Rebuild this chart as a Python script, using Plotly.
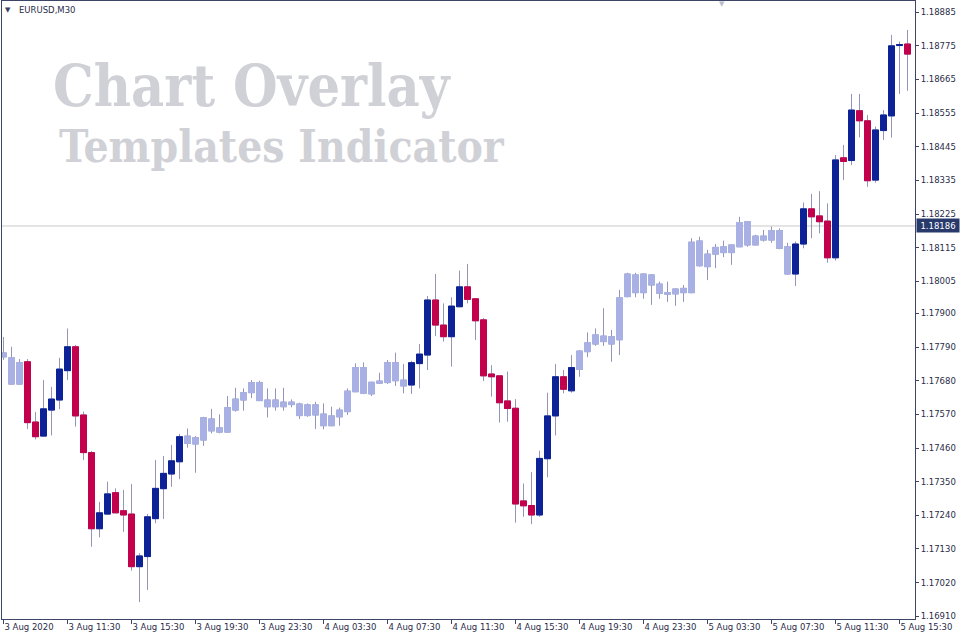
import plotly.graph_objects as go
import pandas as pd

# ---------------- data (EURUSD, M30) ----------------
times = pd.date_range("2020-08-03 07:30", periods=114, freq="30min")

open_ = [1.17771, 1.17755, 1.17669, 1.17742, 1.17545, 1.17499, 1.17584, 1.17617, 1.17713, 1.17791,
         1.17568, 1.17445, 1.17196, 1.17244, 1.17314, 1.17255, 1.17244, 1.17072, 1.17105, 1.17229,
         1.17327, 1.17375, 1.17415, 1.17499, 1.17473, 1.17486, 1.17555, 1.17512, 1.17512, 1.17584,
         1.17617, 1.17641, 1.17674, 1.17617, 1.17595, 1.17610, 1.17602, 1.17604, 1.17566, 1.17601,
         1.17571, 1.17533, 1.17562, 1.17579, 1.17644, 1.17723, 1.17637, 1.17672, 1.17674, 1.17739,
         1.17682, 1.17666, 1.17736, 1.17764, 1.17944, 1.17862, 1.17824, 1.17922, 1.17987, 1.17948,
         1.17879, 1.17702, 1.17696, 1.17614, 1.17590, 1.17287, 1.17272, 1.17241, 1.17425, 1.17565,
         1.17693, 1.17647, 1.17717, 1.17775, 1.17800, 1.17826, 1.17800, 1.17814, 1.17955, 1.18026,
         1.17968, 1.18026, 1.17996, 1.17968, 1.17964, 1.17968, 1.17968, 1.18137, 1.18053, 1.18094,
         1.18118, 1.18099, 1.18118, 1.18200, 1.18124, 1.18140, 1.18140, 1.18171, 1.18118, 1.18029,
         1.18127, 1.18242, 1.18219, 1.18202, 1.18082, 1.18409, 1.18400, 1.18563, 1.18530, 1.18336,
         1.18498, 1.18546, 1.18776, 1.18781]
high = [1.17823, 1.17791, 1.17751, 1.17751, 1.17578, 1.17682, 1.17660, 1.17755, 1.17851, 1.17797,
        1.17579, 1.17450, 1.17284, 1.17350, 1.17328, 1.17323, 1.17342, 1.17116, 1.17244, 1.17421,
        1.17434, 1.17470, 1.17506, 1.17524, 1.17499, 1.17562, 1.17588, 1.17570, 1.17630, 1.17657,
        1.17655, 1.17682, 1.17680, 1.17655, 1.17655, 1.17657, 1.17619, 1.17608, 1.17606, 1.17611,
        1.17606, 1.17595, 1.17592, 1.17655, 1.17737, 1.17740, 1.17677, 1.17706, 1.17748, 1.17772,
        1.17735, 1.17745, 1.17800, 1.17957, 1.18029, 1.17933, 1.17953, 1.18040, 1.18062, 1.17950,
        1.17885, 1.17731, 1.17698, 1.17710, 1.17620, 1.17344, 1.17381, 1.17451, 1.17641, 1.17735,
        1.17715, 1.17764, 1.17779, 1.17838, 1.17851, 1.17917, 1.17846, 1.17977, 1.18033, 1.18033,
        1.18031, 1.18028, 1.18004, 1.18004, 1.17982, 1.17993, 1.18146, 1.18151, 1.18108, 1.18127,
        1.18138, 1.18125, 1.18216, 1.18201, 1.18157, 1.18173, 1.18184, 1.18178, 1.18131, 1.18135,
        1.18263, 1.18291, 1.18300, 1.18260, 1.18418, 1.18451, 1.18618, 1.18618, 1.18549, 1.18511,
        1.18565, 1.18811, 1.18789, 1.18827]
low = [1.17748, 1.17666, 1.17666, 1.17522, 1.17488, 1.17497, 1.17501, 1.17587, 1.17682, 1.17530,
       1.17421, 1.17137, 1.17168, 1.17241, 1.17247, 1.17186, 1.17059, 1.16956, 1.16996, 1.17214,
       1.17228, 1.17333, 1.17358, 1.17461, 1.17379, 1.17467, 1.17508, 1.17508, 1.17510, 1.17579,
       1.17582, 1.17623, 1.17614, 1.17560, 1.17582, 1.17582, 1.17593, 1.17555, 1.17562, 1.17522,
       1.17521, 1.17531, 1.17533, 1.17568, 1.17643, 1.17636, 1.17630, 1.17669, 1.17669, 1.17663,
       1.17639, 1.17637, 1.17655, 1.17715, 1.17826, 1.17808, 1.17726, 1.17920, 1.17933, 1.17813,
       1.17679, 1.17628, 1.17543, 1.17546, 1.17216, 1.17235, 1.17211, 1.17235, 1.17364, 1.17501,
       1.17639, 1.17641, 1.17693, 1.17757, 1.17794, 1.17794, 1.17742, 1.17764, 1.17953, 1.17953,
       1.17948, 1.17928, 1.17948, 1.17938, 1.17925, 1.17938, 1.17966, 1.18053, 1.18009, 1.18048,
       1.18084, 1.18059, 1.18117, 1.18118, 1.18123, 1.18135, 1.18131, 1.18110, 1.18026, 1.17990,
       1.18113, 1.18146, 1.18162, 1.18066, 1.18073, 1.18336, 1.18385, 1.18476, 1.18314, 1.18328,
       1.18467, 1.18475, 1.18618, 1.18628]
close = [1.17758, 1.17669, 1.17739, 1.17543, 1.17497, 1.17588, 1.17620, 1.17718, 1.17791, 1.17565,
         1.17445, 1.17196, 1.17248, 1.17310, 1.17248, 1.17241, 1.17072, 1.17107, 1.17235, 1.17328,
         1.17377, 1.17418, 1.17497, 1.17475, 1.17494, 1.17559, 1.17516, 1.17526, 1.17592, 1.17620,
         1.17641, 1.17674, 1.17615, 1.17595, 1.17617, 1.17595, 1.17610, 1.17566, 1.17601, 1.17568,
         1.17533, 1.17565, 1.17584, 1.17646, 1.17723, 1.17639, 1.17675, 1.17679, 1.17739, 1.17680,
         1.17663, 1.17739, 1.17767, 1.17944, 1.17862, 1.17824, 1.17924, 1.17987, 1.17946, 1.17876,
         1.17696, 1.17693, 1.17608, 1.17589, 1.17277, 1.17271, 1.17241, 1.17426, 1.17565, 1.17693,
         1.17652, 1.17723, 1.17777, 1.17804, 1.17830, 1.17808, 1.17824, 1.17951, 1.18029, 1.17968,
         1.18029, 1.17993, 1.17966, 1.17963, 1.17980, 1.17982, 1.18133, 1.18056, 1.18094, 1.18116,
         1.18099, 1.18124, 1.18197, 1.18124, 1.18153, 1.18153, 1.18171, 1.18113, 1.18029, 1.18127,
         1.18242, 1.18216, 1.18200, 1.18082, 1.18402, 1.18397, 1.18565, 1.18530, 1.18334, 1.18500,
         1.18549, 1.18775, 1.18779, 1.18748]
# candles painted with the light "ranging" template
light = [True] * 3 + [False] * 20 + [True] * 28 + [False] * 21 + [True] * 27 + [False] * 15

price_ticks = [1.18885, 1.18775, 1.18665, 1.18555, 1.18445, 1.18335, 1.18225, 1.18115, 1.18005,
               1.17900, 1.17790, 1.17680, 1.17570, 1.17460, 1.17350, 1.17240, 1.17130, 1.17020, 1.16910]
tick_labels = ["3 Aug 2020", "3 Aug 11:30", "3 Aug 15:30", "3 Aug 19:30", "3 Aug 23:30",
               "4 Aug 03:30", "4 Aug 07:30", "4 Aug 11:30", "4 Aug 15:30", "4 Aug 19:30",
               "4 Aug 23:30", "5 Aug 03:30", "5 Aug 07:30", "5 Aug 11:30", "5 Aug 15:30"]
tick_times = list(times[::8])
bid_price = 1.18186
symbol = "EURUSD,M30"

# ---------------- styles ----------------
BULL = "#0c2296"
BEAR = "#c2004c"
LIGHT = "#a9b1e4"
WICK = "#9297ba"
AXIS = "#3c4566"
TXT = "#2a2d48"
FONT = "Tahoma, DejaVu Sans, sans-serif"
WM_FONT = "DejaVu Serif Condensed, DejaVu Serif, serif"
WM_COLOR = "#d0d1d6"

fig = go.Figure()

# wicks (full range, thin grey lines)
fig.add_trace(go.Candlestick(
    x=times, open=open_, high=high, low=low, close=close,
    increasing=dict(line=dict(color=WICK, width=1), fillcolor="rgba(0,0,0,0)"),
    decreasing=dict(line=dict(color=WICK, width=1), fillcolor="rgba(0,0,0,0)"),
    whiskerwidth=0, hoverinfo="skip", showlegend=False))


def bodies(mask, up, down):
    idx = [i for i in range(len(times)) if mask(i)]
    return go.Candlestick(
        x=[times[i] for i in idx],
        open=[open_[i] for i in idx],
        close=[close[i] for i in idx],
        high=[max(open_[i], close[i]) for i in idx],
        low=[min(open_[i], close[i]) for i in idx],
        increasing=dict(line=dict(color=up, width=1), fillcolor=up),
        decreasing=dict(line=dict(color=down, width=1), fillcolor=down),
        whiskerwidth=0, showlegend=False)


fig.add_trace(bodies(lambda i: light[i], LIGHT, LIGHT))
fig.add_trace(bodies(lambda i: not light[i], BULL, BEAR))

half = pd.Timedelta("30min")
x0 = times[0] - 0.1875 * half
x1 = times[0] + 113.9375 * half

fig.add_shape(type="line", xref="paper", x0=0, x1=1, yref="y", y0=bid_price, y1=bid_price,
              line=dict(color="#c9c9c9", width=1), layer="below")

PW, PH = 913.0, 618.0


def px(xp):
    return (xp - 2) / PW


def py(yp):
    return 1 - (yp - 1) / PH


anns = [
    dict(text="▼", x=px(8), y=py(10.5), font=dict(size=7, color="#3a4060", family=FONT),
         xanchor="center", yanchor="middle"),
    dict(text=symbol, x=px(17), y=py(10), font=dict(size=8.5, color=TXT, family=FONT),
         xanchor="left", yanchor="middle"),
    dict(text="▼", x=px(722), y=py(3.5), font=dict(size=7, color="#b8bccb", family=FONT),
         xanchor="center", yanchor="middle"),
    dict(text="Chart Overlay", x=px(51), y=py(86),
         font=dict(size=57, color=WM_COLOR, family=WM_FONT, weight="bold"),
         xanchor="left", yanchor="middle"),
    dict(text="Templates Indicator", x=px(57), y=py(147),
         font=dict(size=44, color=WM_COLOR, family=WM_FONT, weight="bold"),
         xanchor="left", yanchor="middle"),
    dict(text="1.18186", x=px(916), y=bid_price, yref="y", xanchor="left", yanchor="middle",
         bgcolor="#283a6c", font=dict(size=8.5, color="white", family=FONT),
         width=42, height=13, borderpad=0, align="center"),
]
for a in anns:
    a.setdefault("xref", "paper")
    a.setdefault("yref", "paper")
    a["showarrow"] = False
    fig.add_annotation(**a)

fig.update_layout(
    width=960, height=640,
    margin=dict(l=2, r=45, t=1, b=21, autoexpand=False),
    paper_bgcolor="white", plot_bgcolor="white",
    boxgap=0.25, boxgroupgap=0,
    showlegend=False, hovermode=False,
    xaxis=dict(
        type="date", range=[x0, x1], rangeslider=dict(visible=False),
        tickvals=tick_times, ticktext=tick_labels, ticks="outside", ticklen=4,
        tickcolor=AXIS, tickwidth=1, ticklabelposition="outside right",
        tickfont=dict(family=FONT, size=8.5, color=TXT),
        showgrid=False, zeroline=False, showline=True, linecolor=AXIS, linewidth=1, mirror=True,
    ),
    yaxis=dict(
        side="right", range=[1.1690087, 1.189217], tickvals=price_ticks,
        ticktext=[f"{v:.5f}" for v in price_ticks],
        ticks="outside", ticklen=3, tickcolor=AXIS, tickwidth=1,
        tickfont=dict(family=FONT, size=8.5, color=TXT),
        showgrid=False, zeroline=False, showline=True, linecolor=AXIS, linewidth=1, mirror=True,
    ),
)

fig.write_html("out.html", config={"displayModeBar": False},
               post_script="document.body.style.margin='0';document.body.style.overflow='hidden';")
